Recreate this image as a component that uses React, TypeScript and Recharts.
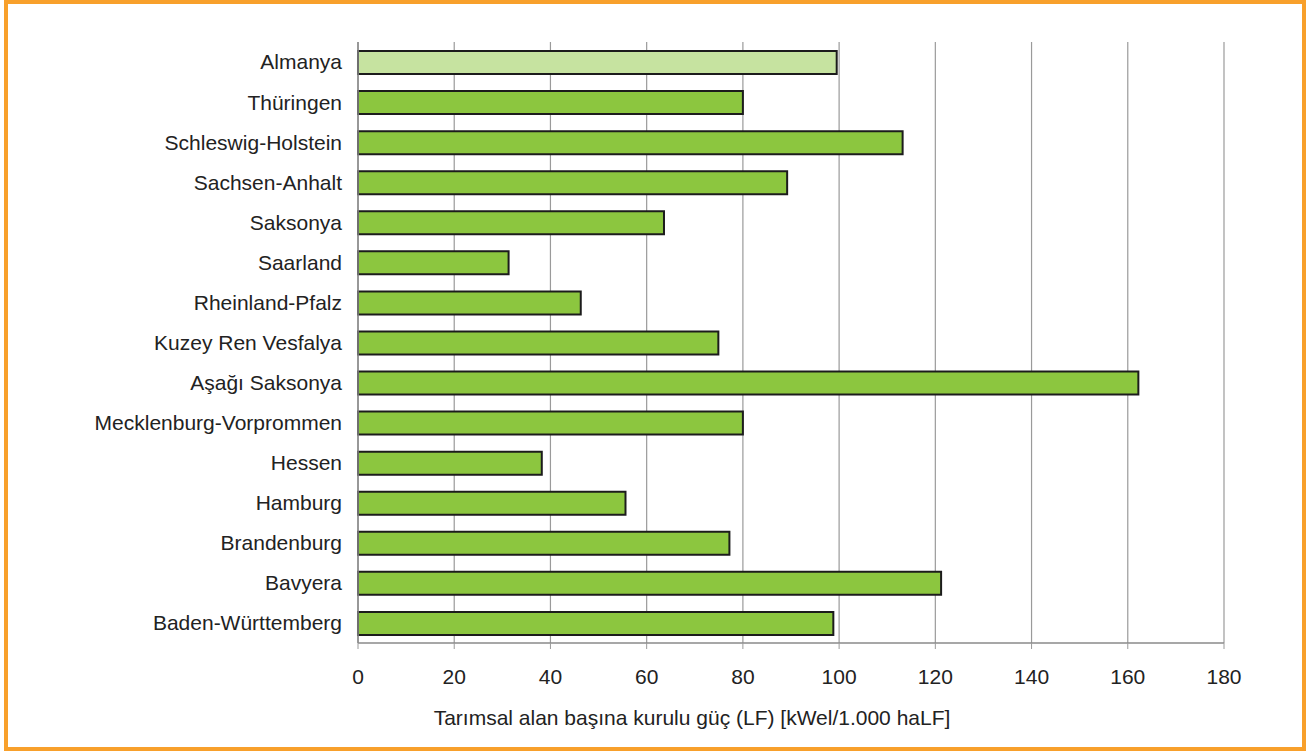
import React from "react";
import { BarChart, Bar, XAxis, YAxis, CartesianGrid, Cell, Label } from "recharts";

const categories = [
  "Almanya",
  "Thüringen",
  "Schleswig-Holstein",
  "Sachsen-Anhalt",
  "Saksonya",
  "Saarland",
  "Rheinland-Pfalz",
  "Kuzey Ren Vesfalya",
  "Aşağı Saksonya",
  "Mecklenburg-Vorprommen",
  "Hessen",
  "Hamburg",
  "Brandenburg",
  "Bavyera",
  "Baden-Württemberg",
];
const values = [99.5, 80, 113.2, 89.2, 63.6, 31.3, 46.3, 74.9, 162.2, 80, 38.2, 55.6, 77.2, 121.2, 98.8];
const xTicks = [0, 20, 40, 60, 80, 100, 120, 140, 160, 180];
const highlightCategory = "Almanya";
const xLabel = "Tarımsal alan başına kurulu güç (LF) [kWel/1.000 haLF]";

const data = categories.map((name, i) => ({ name, value: values[i] }));

const FONT = '"Liberation Sans", Arial, sans-serif';

export default function App() {
  return (
    <div style={{ position: "absolute", left: 0, top: 0, width: 1306, height: 751, background: "#fff" }}>
      <div
        style={{
          position: "absolute",
          left: 4,
          top: 0,
          width: 1302,
          height: 751,
          border: "4px solid #F8A02B",
          boxSizing: "border-box",
        }}
      />
      <div style={{ position: "absolute", left: 0, top: 0 }}>
        <BarChart
          width={1306}
          height={751}
          data={data}
          layout="vertical"
          margin={{ top: 42, right: 82, bottom: 0, left: 0 }}
          barSize={23}
        >
          <CartesianGrid horizontal={false} vertical={true} stroke="#9a9a9a" strokeWidth={1.2} />
          <XAxis
            type="number"
            domain={[0, 180]}
            ticks={xTicks}
            interval={0}
            height={108}
            tickSize={6}
            tickMargin={20}
            axisLine={{ stroke: "#8a8a8a", strokeWidth: 1.5 }}
            tickLine={{ stroke: "#9a9a9a" }}
            tick={{ fill: "#222", fontSize: 21, fontFamily: FONT }}
          >
            <Label
              value={xLabel}
              position="insideBottom"
              offset={26}
              dx={-99}
              style={{ fill: "#222", fontSize: 21, fontFamily: FONT }}
            />
          </XAxis>
          <XAxis
            xAxisId="top"
            type="number"
            orientation="top"
            domain={[0, 180]}
            height={0}
            tick={false}
            tickLine={false}
            axisLine={{ stroke: "#8a8a8a", strokeWidth: 1.5 }}
          />
          <YAxis
            type="category"
            dataKey="name"
            width={358}
            interval={0}
            tickLine={false}
            tickSize={0}
            tickMargin={16}
            axisLine={{ stroke: "#8a8a8a", strokeWidth: 1.5 }}
            tick={{ fill: "#222", fontSize: 21, fontFamily: FONT }}
          />
          <Bar dataKey="value" stroke="#1c1c1c" strokeWidth={2} isAnimationActive={false}>
            {data.map((d) => (
              <Cell key={d.name} fill={d.name === highlightCategory ? "#c6e3a0" : "#8cc63f"} />
            ))}
          </Bar>
        </BarChart>
      </div>
    </div>
  );
}
